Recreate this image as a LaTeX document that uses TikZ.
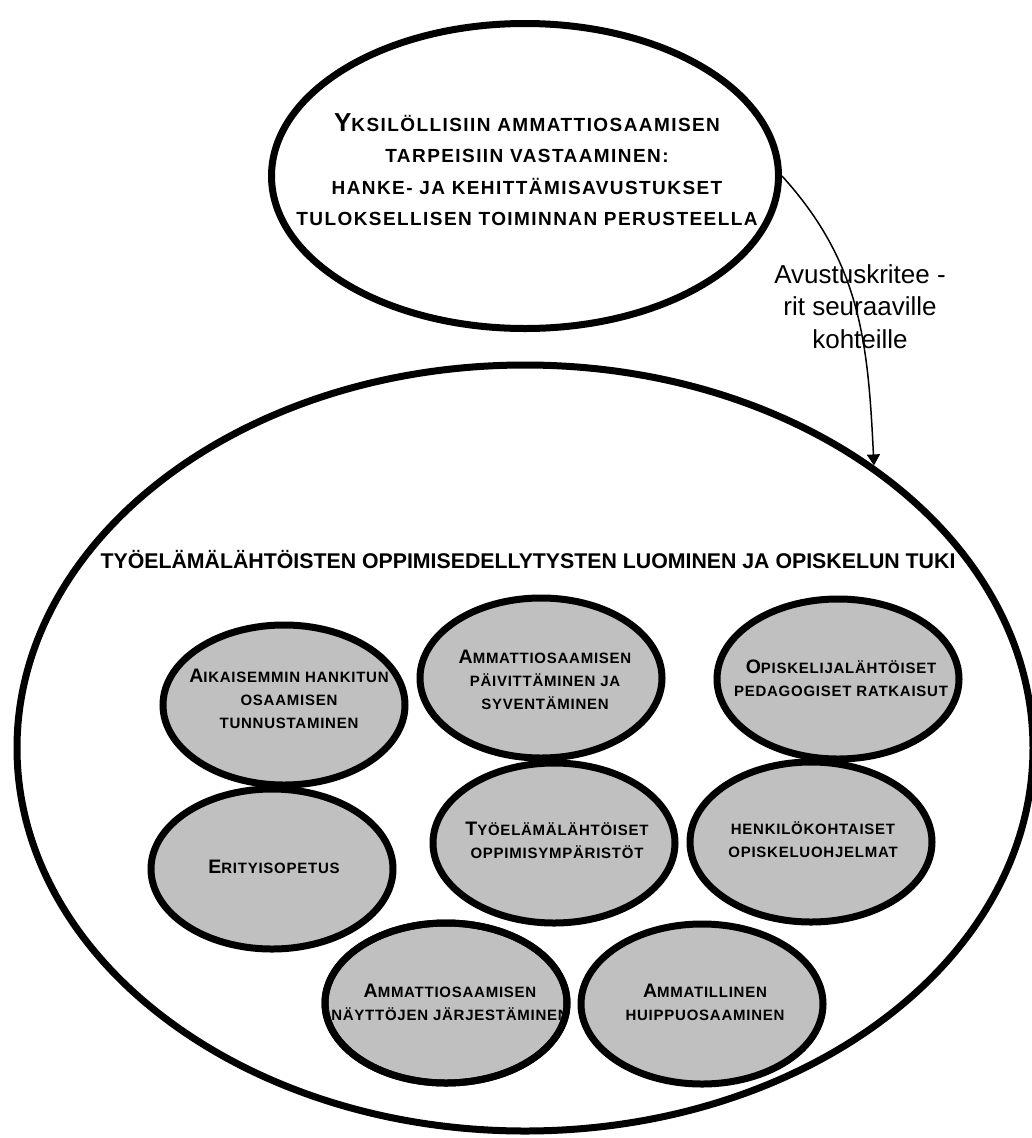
\documentclass[tikz,border=0pt]{standalone}
\usepackage{fontspec}
\setmainfont{Liberation Sans}
\newfontfamily\scfontTop[LetterSpace=7.5]{Liberation Sans}
\newfontfamily\scfontGray[LetterSpace=5]{Liberation Sans}
\usetikzlibrary{shapes.geometric,arrows.meta}
\definecolor{ellgray}{RGB}{192,192,192}
\newcommand\IniTop[1]{{\fontsize{26}{31.3}\selectfont #1}}
\newcommand\IniGray[1]{{\fontsize{19.5}{23}\selectfont #1}}
\begin{document}
\begin{tikzpicture}[x=1pt,y=-1pt,
  bigell/.style={ellipse, draw, line width=7pt, inner sep=0pt},
  grayell/.style={ellipse, draw, line width=7pt, fill=ellgray, inner sep=0pt, minimum width=242pt, minimum height=160pt},
  toptext/.style={align=center, font=\scfontTop\bfseries\fontsize{19}{31.3}\selectfont, inner sep=0pt},
  graytext/.style={align=center, font=\scfontGray\bfseries\fontsize{15}{23}\selectfont, inner sep=0pt},
  titletext/.style={font=\bfseries\fontsize{21.3}{25}\selectfont, inner sep=0pt},
  labeltext/.style={align=center, font=\fontsize{26}{32.5}\selectfont, inner sep=0pt},
  conn/.style={line width=1.5pt, -{Triangle[width=13pt,length=11pt]}}
]
\useasboundingbox (0,0) rectangle (1032,1138);
\fill[white] (0,0) rectangle (1032,1138);

% outer ellipses
\node[bigell, minimum width=1016pt, minimum height=766pt] (big) at (525,748) {};
\node[bigell, minimum width=507pt, minimum height=305pt] (top) at (525,176) {};

\node[toptext] (toptxt) at (527,169.5) {\IniTop{Y}KSILÖLLISIIN AMMATTIOSAAMISEN\\TARPEISIIN VASTAAMINEN:\\HANKE- JA KEHITTÄMISAVUSTUKSET\\TULOKSELLISEN TOIMINNAN PERUSTEELLA};

\node[titletext, anchor=base] (title) at (528,568) {TYÖELÄMÄLÄHTÖISTEN OPPIMISEDELLYTYSTEN LUOMINEN JA OPISKELUN TUKI};

% connector
\draw[conn] (top.east) .. controls (861,263) and (868,343) .. (big.39.5);
\node[labeltext] (lbl) at (860,306.5) {Avustuskritee -\\rit seuraaville\\kohteille};

% gray ellipses
\node[grayell] (A) at (284,705) {};
\node[grayell] (B) at (541,678) {};
\node[grayell] (C) at (838,679) {};
\node[grayell] (D) at (272,869) {};
\node[grayell] (E) at (554,843) {};
\node[grayell] (F) at (811,842) {};
\node[grayell] (G) at (446,1003) {};
\node[grayell] (H) at (702,1004) {};

\node[graytext] (At) at (289,698.4) {\IniGray{A}IKAISEMMIN HANKITUN\\OSAAMISEN\\TUNNUSTAMINEN};
\node[graytext] (Bt) at (545,679.4) {\IniGray{A}MMATTIOSAAMISEN\\PÄIVITTÄMINEN JA\\SYVENTÄMINEN};
\node[graytext] (Ct) at (841,678.4) {\IniGray{O}PISKELIJALÄHTÖISET\\PEDAGOGISET RATKAISUT};
\node[graytext, anchor=base] (Dt) at (274,873.4) {\IniGray{E}RITYISOPETUS};
\node[graytext] (Et) at (557,839.9) {\IniGray{T}YÖELÄMÄLÄHTÖISET\\OPPIMISYMPÄRISTÖT};
\node[graytext] (Ft) at (813,840.1) {HENKILÖKOHTAISET\\OPISKELUOHJELMAT};
\node[graytext] (Gt) at (450,1002.4) {\IniGray{A}MMATTIOSAAMISEN\\NÄYTTÖJEN JÄRJESTÄMINEN};
\node[graytext] (Ht) at (705,1002.4) {\IniGray{A}MMATILLINEN\\HUIPPUOSAAMINEN};
\draw[line width=7pt] (G.center) ellipse [x radius=121pt, y radius=80pt];
\end{tikzpicture}
\end{document}
